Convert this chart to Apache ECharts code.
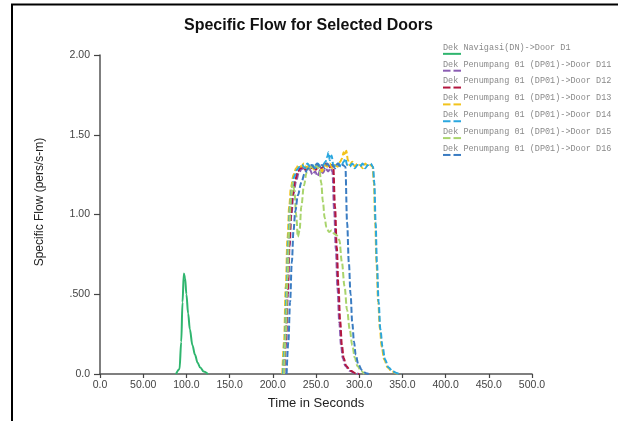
<!DOCTYPE html>
<html>
<head>
<meta charset="utf-8">
<script src="https://cdn.jsdelivr.net/npm/echarts@6/dist/echarts.min.js"></script>
<style>
html, body { margin: 0; padding: 0; background: #fff; }
#chartsId { width: 618px; height: 421px; }
</style>
</head>
<body>
<div id="chartsId"></div>
<script>
// series names / colours, in legend order
var seriesNames = [
  'Dek Navigasi(DN)->Door D1',
  'Dek Penumpang 01 (DP01)->Door D11',
  'Dek Penumpang 01 (DP01)->Door D12',
  'Dek Penumpang 01 (DP01)->Door D13',
  'Dek Penumpang 01 (DP01)->Door D14',
  'Dek Penumpang 01 (DP01)->Door D15',
  'Dek Penumpang 01 (DP01)->Door D16'
];
var colors = ['#2fb56e', '#8b5db3', '#b3173f', '#f2c31c', '#2aa7df', '#a9d46c', '#3a7cc2'];

var xTickLabels = ['0.0', '50.00', '100.0', '150.0', '200.0', '250.0', '300.0', '350.0', '400.0', '450.0', '500.0'];
var yTickLabels = ['0.0', '.500', '1.00', '1.50', '2.00'];

// time (s) and specific flow (pers/s-m)
var timeD1 = [88, 92, 94, 95.5, 97, 98.5, 100, 102, 104, 107, 110, 113, 116, 120, 125];
var flowD1 = [0, 0.03, 0.2, 0.45, 0.63, 0.6, 0.5, 0.38, 0.28, 0.18, 0.12, 0.07, 0.04, 0.015, 0];

var timeD11 = [213.5, 215.5, 217.5, 219.5, 221.5, 224, 227, 230, 234, 237, 240, 243, 246, 249, 252, 255, 258, 261, 264, 267, 269, 271, 273, 275, 277, 279, 281, 284, 289, 295, 299];
var flowD11 = [0, 0.2, 0.5, 0.8, 1.0, 1.13, 1.21, 1.26, 1.29, 1.27, 1.30, 1.28, 1.25, 1.27, 1.24, 1.28, 1.26, 1.29, 1.27, 1.29, 1.27, 1.03, 0.78, 0.53, 0.32, 0.18, 0.1, 0.05, 0.02, 0.005, 0];

var timeD12 = [213, 215, 217, 219, 221, 223, 226, 229, 232, 235, 238, 241, 244, 247, 250, 253, 256, 259, 262, 265, 268, 270, 272, 274, 276, 278, 280, 282, 285, 290, 296, 300];
var flowD12 = [0, 0.2, 0.5, 0.8, 1.0, 1.12, 1.22, 1.27, 1.29, 1.30, 1.28, 1.31, 1.29, 1.30, 1.28, 1.31, 1.29, 1.30, 1.32, 1.29, 1.31, 1.3, 1.05, 0.8, 0.55, 0.33, 0.18, 0.1, 0.05, 0.02, 0.005, 0];

var timeD13 = [211, 213, 215, 217, 219, 221, 224, 227, 230, 233, 236, 239, 242, 245, 248, 251, 254, 257, 260, 263, 266, 269, 272, 275, 278, 280, 282, 283.5, 285, 287, 289, 292, 295, 298, 301, 304, 307, 310, 313, 315.5, 317, 318.5, 320, 322, 324, 326, 329, 333, 338, 344, 348];
var flowD13 = [0, 0.2, 0.55, 0.85, 1.05, 1.17, 1.25, 1.29, 1.31, 1.30, 1.32, 1.29, 1.31, 1.30, 1.28, 1.31, 1.30, 1.27, 1.31, 1.30, 1.32, 1.29, 1.31, 1.30, 1.33, 1.35, 1.39, 1.37, 1.40, 1.34, 1.31, 1.33, 1.30, 1.32, 1.31, 1.29, 1.32, 1.30, 1.31, 1.30, 1.2, 0.95, 0.7, 0.45, 0.28, 0.17, 0.09, 0.04, 0.015, 0.003, 0];

var timeD14 = [212, 214, 216, 218, 220, 222, 225, 228, 231, 234, 237, 240, 243, 246, 249, 252, 255, 258, 261, 263, 264.5, 266, 268, 270, 273, 276, 279, 282, 284, 286, 289, 292, 295, 298, 301, 304, 307, 310, 313, 316, 317.5, 319, 320.5, 322.5, 324.5, 327, 330, 334, 339, 345, 349];
var flowD14 = [0, 0.2, 0.55, 0.85, 1.05, 1.16, 1.24, 1.28, 1.30, 1.31, 1.29, 1.32, 1.30, 1.31, 1.29, 1.32, 1.30, 1.31, 1.33, 1.36, 1.39, 1.34, 1.37, 1.31, 1.30, 1.32, 1.30, 1.33, 1.35, 1.31, 1.30, 1.32, 1.29, 1.31, 1.30, 1.32, 1.29, 1.31, 1.32, 1.30, 1.2, 0.95, 0.7, 0.45, 0.28, 0.17, 0.09, 0.04, 0.015, 0.003, 0];

var timeD15 = [213, 215, 217, 219, 221, 223, 225, 227, 229, 231, 233, 236, 239, 242, 246, 250, 254, 256, 258, 260, 262, 265, 268, 271, 274, 277, 280, 283, 286, 289, 292, 295, 298, 302, 306];
var flowD15 = [0, 0.25, 0.6, 0.9, 1.1, 1.2, 1.15, 1.0, 0.86, 0.9, 1.05, 1.18, 1.26, 1.29, 1.3, 1.31, 1.28, 1.2, 1.08, 0.98, 0.92, 0.89, 0.9, 0.88, 0.87, 0.84, 0.7, 0.55, 0.4, 0.28, 0.18, 0.1, 0.05, 0.02, 0];

var timeD16 = [216, 218, 220, 222, 224, 226, 229, 233, 237, 241, 245, 248, 251, 254, 257, 260, 263, 266, 269, 272, 275, 278, 281, 284, 286, 288, 290, 292, 294, 296, 299, 303, 308, 311];
var flowD16 = [0, 0.2, 0.45, 0.7, 0.9, 1.02, 1.12, 1.2, 1.26, 1.29, 1.31, 1.29, 1.32, 1.30, 1.31, 1.29, 1.32, 1.30, 1.31, 1.29, 1.32, 1.30, 1.31, 1.3, 0.95, 0.7, 0.5, 0.32, 0.2, 0.12, 0.06, 0.025, 0.005, 0];

var allTimes = [timeD1, timeD11, timeD12, timeD13, timeD14, timeD15, timeD16];
var allFlows = [flowD1, flowD11, flowD12, flowD13, flowD14, flowD15, flowD16];

function pairs(t, v) {
  return t.map(function (x, i) { return [x, v[i]]; });
}

var myChart = echarts.init(document.getElementById('chartsId'), null, { renderer: 'canvas' });

// legend: text with a short mark underneath (solid for D1, dashed for the rest)
var legendRich = {
  t: { fontFamily: 'Liberation Mono', fontSize: 8.5, color: '#8a8a8a', lineHeight: 8.5 },
  g: { width: 3, height: 2, lineHeight: 4.2 }
};
colors.forEach(function (c, i) {
  legendRich['c' + i] = { width: i === 0 ? 18 : 7.5, height: 2, lineHeight: 4.2, backgroundColor: c };
});

var series = seriesNames.map(function (name, i) {
  return {
    name: name,
    type: 'line',
    showSymbol: false,
    smooth: 0.35,
    smoothMonotone: 'x',
    lineStyle: { color: colors[i], width: 2, type: i === 0 ? 'solid' : [6, 2.5] },
    itemStyle: { color: colors[i] },
    data: pairs(allTimes[i], allFlows[i])
  };
});

var option = {
  animation: false,
  title: {
    text: 'Specific Flow for Selected Doors',
    left: 179,
    top: 13,
    textStyle: { fontFamily: 'Liberation Sans', fontSize: 16, fontWeight: 'bold', color: '#111' }
  },
  legend: {
    orient: 'vertical',
    left: 432,
    top: 38,
    itemWidth: 0,
    itemHeight: 0,
    itemGap: 0,
    selectedMode: false,
    data: seriesNames,
    formatter: function (name) {
      var i = seriesNames.indexOf(name);
      var mark = i === 0 ? '{c0| }' : '{c' + i + '| }{g| }{c' + i + '| }';
      return '{t|' + name + '}\n' + mark;
    },
    textStyle: { rich: legendRich }
  },
  grid: { left: 100, right: 86, top: 55, bottom: 47 },
  xAxis: {
    type: 'value',
    min: 0,
    max: 500,
    interval: 50,
    name: 'Time in Seconds',
    nameLocation: 'middle',
    nameGap: 23,
    nameTextStyle: { fontFamily: 'Liberation Sans', fontSize: 13, color: '#222' },
    axisLine: { lineStyle: { color: '#555', width: 1.5 } },
    axisTick: { length: 4, lineStyle: { color: '#444', width: 1.2 } },
    axisLabel: {
      margin: 6,
      fontFamily: 'Liberation Sans',
      fontSize: 10.5,
      color: '#444',
      formatter: function (v) { return xTickLabels[Math.round(v / 50)]; }
    },
    splitLine: { show: false }
  },
  yAxis: {
    type: 'value',
    min: 0,
    max: 2,
    interval: 0.5,
    name: 'Specific Flow (pers/s-m)',
    nameLocation: 'middle',
    nameGap: 54,
    nameTextStyle: { fontFamily: 'Liberation Sans', fontSize: 12, color: '#222', padding: [0, 0, 0, 25] },
    axisLine: { show: true, lineStyle: { color: '#555', width: 1.5 } },
    axisTick: { show: true, length: 6, lineStyle: { color: '#444', width: 1.2 } },
    axisLabel: {
      margin: 10,
      fontFamily: 'Liberation Sans',
      fontSize: 10.5,
      color: '#444',
      formatter: function (v) { return yTickLabels[Math.round(v / 0.5)]; }
    },
    splitLine: { show: false }
  },
  graphic: [
    { type: 'line', shape: { x1: 12, y1: 4, x2: 12, y2: 421 }, style: { stroke: '#000', lineWidth: 2 } },
    { type: 'line', shape: { x1: 11, y1: 4.5, x2: 618, y2: 4.5 }, style: { stroke: '#000', lineWidth: 2 } }
  ],
  series: series
};

myChart.setOption(option);
</script>
</body>
</html>
